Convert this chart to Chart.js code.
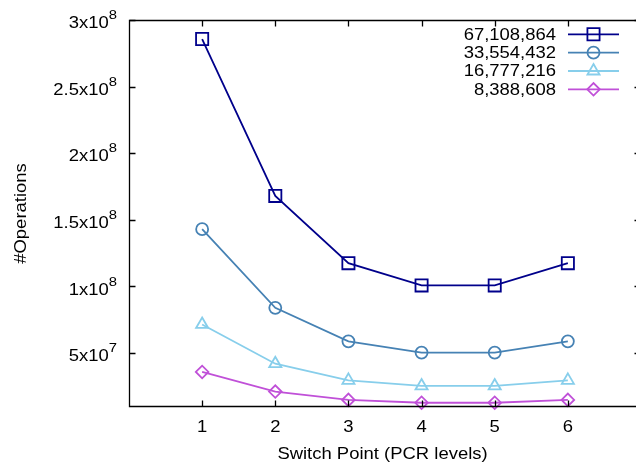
<!DOCTYPE html>
<html lang="en">
<head>
<meta charset="UTF-8">
<title>Operations vs Switch Point</title>
<script src="https://cdn.jsdelivr.net/npm/chart.js"></script>
<style>
  html, body { margin: 0; padding: 0; background: #fff; overflow: hidden; }
  #wrap { width: 636px; height: 464px; overflow: hidden; }
</style>
</head>
<body>
<div id="wrap"><canvas id="opsChart" width="641" height="464"></canvas></div>
<script>
// data
const switchPoints = [1, 2, 3, 4, 5, 6];
const seriesLabels = ['67,108,864', '33,554,432', '16,777,216', '8,388,608'];
const ops67M = [2.857e8, 1.679e8, 1.174e8, 1.007e8, 1.007e8, 1.174e8];
const ops33M = [1.429e8, 8.39e7, 5.87e7, 5.03e7, 5.03e7, 5.87e7];
const ops16M = [7.14e7, 4.19e7, 2.94e7, 2.52e7, 2.52e7, 2.94e7];
const ops8M = [3.57e7, 2.10e7, 1.47e7, 1.26e7, 1.26e7, 1.47e7];

const xTicks = [1, 2, 3, 4, 5, 6];
const yTicks = [5e7, 1e8, 1.5e8, 2e8, 2.5e8, 3e8];
const yTickMantissa = ['5', '1', '1.5', '2', '2.5', '3'];
const yTickExponent = ['7', '8', '8', '8', '8', '8'];

const colors = ['#00008b', '#4682b4', '#87ceeb', '#c050d8'];
const markers = [
    { style: 'rect', radius: 8.6 },
    { style: 'circle', radius: 6 },
    { style: 'triangle', radius: 7 },
    { style: 'rectRot', radius: 6.3 }
];
const allSeries = [ops67M, ops33M, ops16M, ops8M];

const FONT = '"Liberation Sans", Arial, sans-serif';
const SX = 1.14;

function drawText(ctx, s, x, y, size, align) {
    ctx.save();
    ctx.font = size + 'px ' + FONT;
    ctx.textBaseline = 'alphabetic';
    ctx.textAlign = 'left';
    const w = ctx.measureText(s).width * SX;
    let x0 = x;
    if (align === 'right') x0 = x - w;
    if (align === 'center') x0 = x - w / 2;
    ctx.translate(x0, y);
    ctx.scale(SX, 1);
    ctx.fillText(s, 0, 0);
    ctx.restore();
    return w;
}
function textWidth(ctx, s, size) {
    ctx.save();
    ctx.font = size + 'px ' + FONT;
    const w = ctx.measureText(s).width * SX;
    ctx.restore();
    return w;
}

const gnuplotFrame = {
    id: 'gnuplotFrame',
    afterDraw(chart) {
        const ctx = chart.ctx;
        const a = chart.chartArea;
        const xs = chart.scales.x, ys = chart.scales.y;
        const L = Math.round(a.left) + 0.5, R = Math.round(a.right) - 0.5;
        const T = Math.round(a.top) + 0.5, B = Math.round(a.bottom) - 0.5;
        ctx.save();
        ctx.strokeStyle = '#000';
        ctx.lineWidth = 1.3;
        ctx.beginPath();
        ctx.rect(L, T, R - L, B - T);
        ctx.stroke();
        // ticks (inward, mirrored)
        ctx.beginPath();
        xTicks.forEach(v => {
            const px = Math.round(xs.getPixelForValue(v)) + 0.5;
            ctx.moveTo(px, B); ctx.lineTo(px, B - 6);
            ctx.moveTo(px, T); ctx.lineTo(px, T + 6);
        });
        yTicks.forEach(v => {
            const py = Math.round(ys.getPixelForValue(v)) + 0.5;
            ctx.moveTo(L, py); ctx.lineTo(L + 6, py);
            ctx.moveTo(R, py); ctx.lineTo(R - 6, py);
        });
        ctx.stroke();

        ctx.fillStyle = '#000';
        xTicks.forEach(v => {
            drawText(ctx, String(v), xs.getPixelForValue(v), a.bottom + 25, 16.2, 'center');
        });
        yTicks.forEach((v, i) => {
            const py = ys.getPixelForValue(v);
            const right = 117;
            const ew = textWidth(ctx, yTickExponent[i], 13);
            drawText(ctx, yTickExponent[i], right, py - 0.7, 13, 'right');
            drawText(ctx, yTickMantissa[i] + 'x10', right - ew, py + 8.3, 16.2, 'right');
        });

        // axis titles
        drawText(ctx, 'Switch Point (PCR levels)', (a.left + 636) / 2, 459, 16.2, 'center');
        ctx.save();
        ctx.translate(26, (a.top + a.bottom) / 2);
        ctx.rotate(-Math.PI / 2);
        drawText(ctx, '#Operations', 0, 0, 16.2, 'center');
        ctx.restore();

        // legend
        const rowY = [34.3, 52.7, 71, 89.3];
        chart.data.datasets.forEach((ds, i) => {
            const y = rowY[i];
            ctx.fillStyle = '#000';
            drawText(ctx, ds.label, 556, y + 5.3, 16.2, 'right');
            ctx.strokeStyle = ds.borderColor;
            ctx.lineWidth = ds.borderWidth;
            ctx.beginPath();
            ctx.moveTo(568, y); ctx.lineTo(619, y);
            ctx.stroke();
            ctx.fillStyle = 'rgba(0,0,0,0)';
            ctx.lineWidth = ds.pointBorderWidth;
            Chart.helpers.drawPoint(ctx, {
                pointStyle: ds.pointStyle, radius: ds.pointRadius,
                rotation: 0, borderWidth: ds.pointBorderWidth
            }, 593.5, y);
        });
        ctx.restore();
    }
};

new Chart(document.getElementById('opsChart'), {
    type: 'line',
    data: {
        datasets: allSeries.map((vals, i) => ({
            label: seriesLabels[i],
            data: switchPoints.map((x, j) => ({ x: x, y: vals[j] })),
            borderColor: colors[i],
            borderWidth: 1.8,
            pointStyle: markers[i].style,
            pointRadius: markers[i].radius,
            pointHoverRadius: markers[i].radius,
            pointBorderColor: colors[i],
            pointBackgroundColor: 'rgba(0,0,0,0)',
            pointBorderWidth: 1.8,
            tension: 0,
            clip: false
        }))
    },
    options: {
        responsive: false,
        devicePixelRatio: 1,
        animation: false,
        layout: { autoPadding: false, padding: { left: 129, top: 20, right: 0, bottom: 57 } },
        plugins: { legend: { display: false }, tooltip: { enabled: false } },
        scales: {
            x: { type: 'linear', min: 0, max: 7, display: false },
            y: { type: 'linear', min: 9.4e6, max: 3e8, display: false }
        }
    },
    plugins: [gnuplotFrame]
});
</script>
</body>
</html>
